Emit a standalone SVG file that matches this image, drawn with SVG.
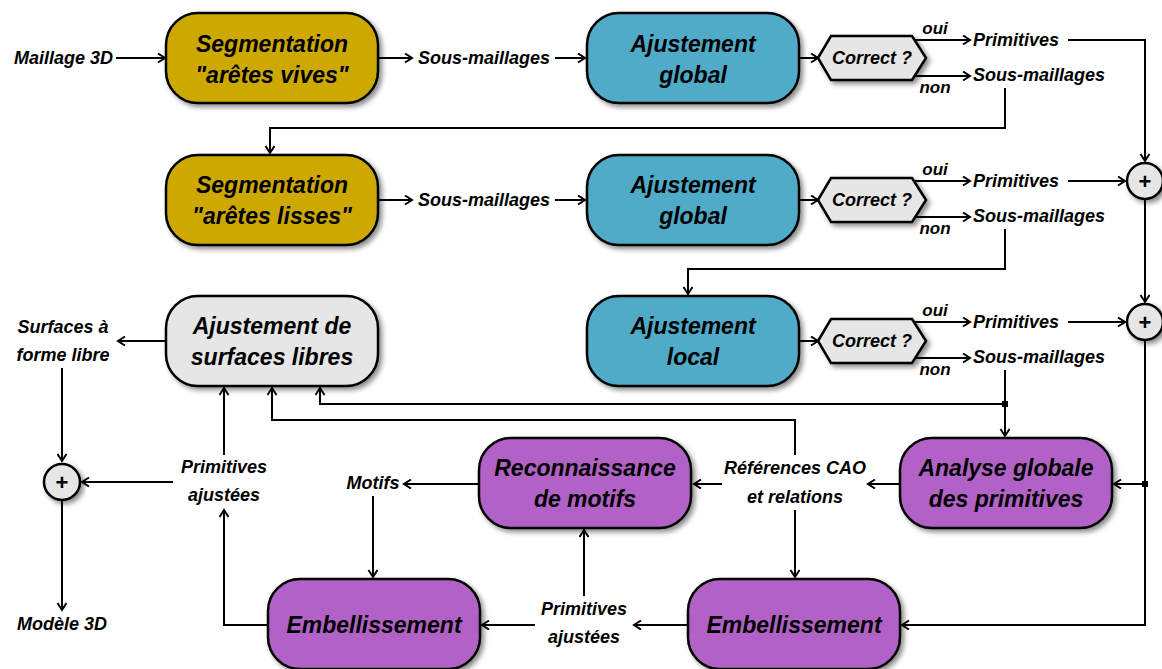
<svg xmlns="http://www.w3.org/2000/svg" width="1162" height="669" viewBox="0 0 1162 669">
<defs>
<marker id="ah" markerUnits="userSpaceOnUse" markerWidth="12" markerHeight="12" refX="9" refY="5" orient="auto">
<path d="M2,0.5 L9,5 L2,9.5" fill="none" stroke="#000" stroke-width="2"/>
</marker>
<filter id="sh" x="-10%" y="-10%" width="125%" height="130%">
<feDropShadow dx="3" dy="3" stdDeviation="2.5" flood-color="#000" flood-opacity="0.45"/>
</filter>
<style>
.box{stroke:#000;stroke-width:2.5;filter:url(#sh)}
.gold{fill:#CDA900}
.blue{fill:#50ABC8}
.purple{fill:#B262C6}
.grey{fill:#E6E6E6}
.bt{font-family:"Liberation Sans",Arial,sans-serif;font-weight:bold;font-style:italic;font-size:23px;text-anchor:middle;fill:#000}
.lt{font-family:"Liberation Sans",Arial,sans-serif;font-weight:bold;font-style:italic;font-size:18px;fill:#000}
.mid{text-anchor:middle}
.end{text-anchor:end}
.sm{font-size:17px}
.c{fill:none;stroke:#000;stroke-width:2}
.a{marker-end:url(#ah)}
.plus{font-family:"Liberation Sans",Arial,sans-serif;font-weight:bold;font-size:22px;text-anchor:middle}
</style>
</defs>

<g id="connectors">
<path class="c a" d="M116,58 H165"/>
<path class="c a" d="M378,58 H412"/>
<path class="c a" d="M555,58 H585"/>
<path class="c a" d="M800,58 H818"/>
<path class="c a" d="M913,40 H970"/>
<path class="c a" d="M913,76 H970"/>
<path class="c a" d="M1068,40 H1145 V161"/>
<path class="c a" d="M1005,88 V128 H270 V153"/>

<path class="c a" d="M378,200 H412"/>
<path class="c a" d="M555,200 H585"/>
<path class="c a" d="M800,200 H818"/>
<path class="c a" d="M913,181 H970"/>
<path class="c a" d="M913,217 H970"/>
<path class="c a" d="M1068,181 H1125"/>
<path class="c a" d="M1005,229 V269 H688 V294"/>
<path class="c a" d="M1145,200 V302"/>

<path class="c a" d="M800,341 H818"/>
<path class="c a" d="M913,322 H970"/>
<path class="c a" d="M913,358 H970"/>
<path class="c a" d="M1068,322 H1125"/>
<path class="c a" d="M1005,370 V436"/>
<path class="c a" d="M1005,404 H320 V388"/>
<rect x="1002" y="401" width="6" height="6" fill="#000"/>
<path class="c a" d="M1145,341 V625 H902"/>
<path class="c a" d="M1145,484 H1114"/>
<rect x="1142" y="481" width="6" height="6" fill="#000"/>

<path class="c a" d="M900,484 H868"/>
<path class="c a" d="M722,484 H694"/>
<path class="c a" d="M795,455 V420 H272 V388"/>
<path class="c a" d="M795,510 V577"/>
<path class="c a" d="M478,484 H404"/>
<path class="c a" d="M373,496 V577"/>
<path class="c a" d="M688,625 H634"/>
<path class="c a" d="M535,625 H482"/>
<path class="c a" d="M584,596 V530"/>
<path class="c a" d="M268,625 H224 V510"/>
<path class="c a" d="M224,455 V388"/>
<path class="c a" d="M173,482 H82"/>
<path class="c a" d="M62,368 V461"/>
<path class="c a" d="M62,501 V610"/>
<path class="c a" d="M167,341 H118"/>
</g>

<g id="label-maillage"><text class="lt end" x="113" y="64">Maillage 3D</text></g>

<g id="seg1">
<rect class="box gold" x="166" y="13" width="212" height="90" rx="32"/>
<text class="bt" x="272" y="52">Segmentation</text>
<text class="bt" x="272" y="83">"arêtes vives"</text>
</g>
<g id="lbl-sm1"><text class="lt mid" x="484" y="64">Sous-maillages</text></g>
<g id="ajust1">
<rect class="box blue" x="587" y="13" width="212" height="90" rx="32"/>
<text class="bt" x="693" y="52">Ajustement</text>
<text class="bt" x="693" y="83">global</text>
</g>
<g id="correct1">
<polygon class="box grey" points="818,58 831,36 912,36 926,58 912,80 831,80"/>
<text class="lt mid" x="872" y="64">Correct ?</text>
</g>
<g id="lbl-r1">
<text class="lt mid sm" x="935" y="34">oui</text>
<text class="lt mid sm" x="935" y="93">non</text>
<text class="lt" x="973" y="46">Primitives</text>
<text class="lt" x="973" y="81">Sous-maillages</text>
</g>

<g id="seg2">
<rect class="box gold" x="166" y="155" width="212" height="90" rx="32"/>
<text class="bt" x="272" y="193">Segmentation</text>
<text class="bt" x="272" y="224">"arêtes lisses"</text>
</g>
<g id="lbl-sm2"><text class="lt mid" x="484" y="206">Sous-maillages</text></g>
<g id="ajust2">
<rect class="box blue" x="587" y="155" width="212" height="90" rx="32"/>
<text class="bt" x="693" y="193">Ajustement</text>
<text class="bt" x="693" y="224">global</text>
</g>
<g id="correct2">
<polygon class="box grey" points="818,200 831,178 912,178 926,200 912,222 831,222"/>
<text class="lt mid" x="872" y="206">Correct ?</text>
</g>
<g id="lbl-r2">
<text class="lt mid sm" x="935" y="175">oui</text>
<text class="lt mid sm" x="935" y="234">non</text>
<text class="lt" x="973" y="187">Primitives</text>
<text class="lt" x="973" y="222">Sous-maillages</text>
</g>
<g id="plus1">
<circle class="box grey" cx="1145" cy="181" r="18"/>
<text class="plus" x="1145" y="189">+</text>
</g>

<g id="surfaces">
<rect class="box grey" x="166" y="296" width="212" height="90" rx="32"/>
<text class="bt" x="272" y="334">Ajustement de</text>
<text class="bt" x="272" y="365">surfaces libres</text>
</g>
<g id="lbl-surf">
<text class="lt mid" x="63" y="333">Surfaces à</text>
<text class="lt mid" x="63" y="361">forme libre</text>
</g>
<g id="ajust3">
<rect class="box blue" x="587" y="296" width="212" height="90" rx="32"/>
<text class="bt" x="693" y="334">Ajustement</text>
<text class="bt" x="693" y="365">local</text>
</g>
<g id="correct3">
<polygon class="box grey" points="818,341 831,319 912,319 926,341 912,363 831,363"/>
<text class="lt mid" x="872" y="347">Correct ?</text>
</g>
<g id="lbl-r3">
<text class="lt mid sm" x="935" y="316">oui</text>
<text class="lt mid sm" x="935" y="375">non</text>
<text class="lt" x="973" y="328">Primitives</text>
<text class="lt" x="973" y="363">Sous-maillages</text>
</g>
<g id="plus2">
<circle class="box grey" cx="1145" cy="322" r="18"/>
<text class="plus" x="1145" y="330">+</text>
</g>

<g id="plus3">
<circle class="box grey" cx="62" cy="482" r="18"/>
<text class="plus" x="62" y="490">+</text>
</g>
<g id="lbl-prim-left">
<text class="lt mid" x="224" y="473">Primitives</text>
<text class="lt mid" x="224" y="501">ajustées</text>
</g>
<g id="lbl-motifs"><text class="lt mid" x="373" y="489">Motifs</text></g>
<g id="reco">
<rect class="box purple" x="479" y="438" width="212" height="90" rx="32"/>
<text class="bt" x="585" y="476">Reconnaissance</text>
<text class="bt" x="585" y="507">de motifs</text>
</g>
<g id="lbl-ref">
<text class="lt mid" x="795" y="474">Références CAO</text>
<text class="lt mid" x="795" y="503">et relations</text>
</g>
<g id="analyse">
<rect class="box purple" x="900" y="438" width="212" height="90" rx="32"/>
<text class="bt" x="1006" y="476">Analyse globale</text>
<text class="bt" x="1006" y="507">des primitives</text>
</g>
<g id="lbl-modele"><text class="lt mid" x="62" y="630">Modèle 3D</text></g>
<g id="emb-left">
<rect class="box purple" x="268" y="579" width="212" height="90" rx="32"/>
<text class="bt" x="374" y="633">Embellissement</text>
</g>
<g id="lbl-prim-bottom">
<text class="lt mid" x="584" y="615">Primitives</text>
<text class="lt mid" x="584" y="643">ajustées</text>
</g>
<g id="emb-right">
<rect class="box purple" x="688" y="579" width="212" height="90" rx="32"/>
<text class="bt" x="794" y="633">Embellissement</text>
</g>
</svg>
